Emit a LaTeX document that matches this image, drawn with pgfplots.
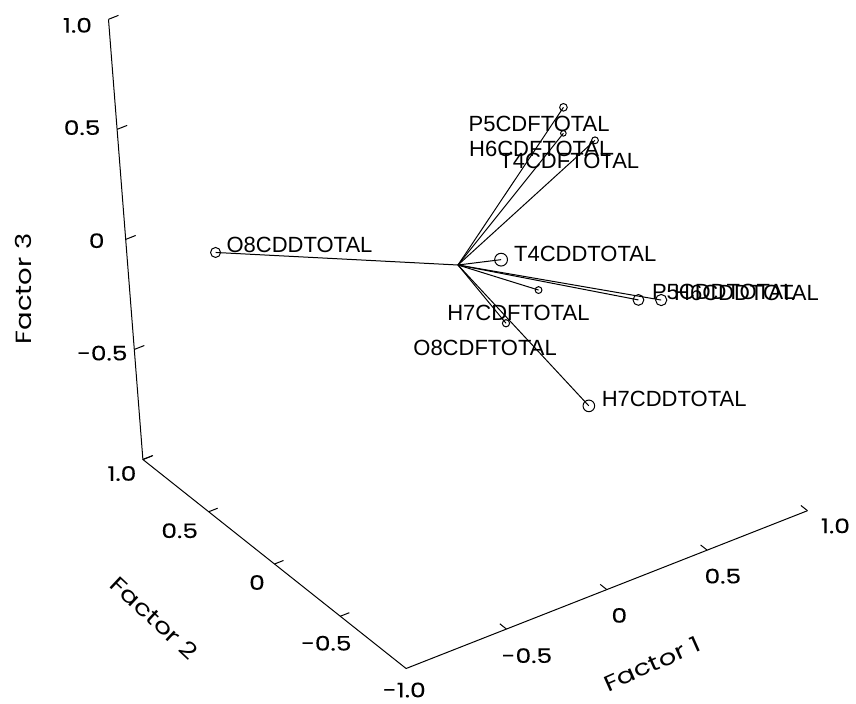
\documentclass[border=0pt]{standalone}
\usepackage{pgfplots}
\pgfplotsset{compat=1.18}
\usetikzlibrary{calc}
\usepackage{fontspec}
\setmainfont{Liberation Sans}
\newfontfamily\axisfont[FakeStretch=1.25, FakeBold=0.2]{Poppins}
\newfontfamily\titlefont[FakeStretch=1.25]{Poppins}

% one loading vector: a line from the origin, an open circle at its tip
\pgfplotsset{
  loading/.style={black, line width=0.5pt, mark=o, mark indices={2}, mark size=#1,
    mark options={solid, fill=white, line width=0.5pt}},
}
\tikzset{
  ticklab/.style={font=\axisfont\fontsize{10}{12}\selectfont, inner sep=0pt, anchor=center},
  titlelab/.style={font=\titlefont\fontsize{11}{13}\selectfont, inner sep=0pt, anchor=center},
  varlab/.style={font=\fontsize{11}{13}\selectfont, inner sep=0pt, anchor=base west},
}

\begin{document}
\begin{tikzpicture}
\begin{axis}[
  hide axis, clip=false,
  x={(100.35pt,39.45pt)}, y={(-65.8pt,52.25pt)}, z={(-8.6pt,110.05pt)},
  xmin=-1, xmax=1, ymin=-1, ymax=1, zmin=-1, zmax=1,
]
% axis frame: Factor 1 along the front, Factor 2 to the left, Factor 3 upright at the back
\draw[line width=0.5pt] (axis cs:1,-1,-1) -- (axis cs:-1,-1,-1) -- (axis cs:-1,1,-1) -- (axis cs:-1,1,1);
\pgfplotsinvokeforeach{-0.5,0,0.5,1}{\draw[line width=0.5pt] (axis cs:#1,-1,-1) -- (axis cs:#1,-0.95,-1);}
\pgfplotsinvokeforeach{-0.5,0,0.5,1}{\draw[line width=0.5pt] (axis cs:-1,#1,-1) -- (axis cs:-0.955,#1,-1);}
\pgfplotsinvokeforeach{-1,-0.5,0,0.5,1}{\draw[line width=0.5pt] (axis cs:-1,1,#1) -- (axis cs:-0.95,1,#1);}

% tick labels
\node[ticklab] at ($(axis cs:-1,-1,-1)+(-0.85pt,-10.75pt)$) {-1.0};
\node[ticklab] at ($(axis cs:-0.5,-1,-1)+(10.25pt,-13.3pt)$) {-0.5};
\node[ticklab] at ($(axis cs:0,-1,-1)+(6.25pt,-12.9pt)$) {0};
\node[ticklab] at ($(axis cs:0.5,-1,-1)+(7.85pt,-13pt)$) {0.5};
\node[ticklab] at ($(axis cs:1,-1,-1)+(14pt,-7.6pt)$) {1.0};

\node[ticklab] at ($(axis cs:-1,1,-1)+(-10.5pt,-7pt)$) {1.0};
\node[ticklab] at ($(axis cs:-1,0.5,-1)+(-14.5pt,-9.5pt)$) {0.5};
\node[ticklab] at ($(axis cs:-1,0,-1)+(-8.75pt,-9.25pt)$) {0};
\node[ticklab] at ($(axis cs:-1,-0.5,-1)+(-7pt,-13.5pt)$) {-0.5};

\node[ticklab] at ($(axis cs:-1,1,1)+(-15.5pt,-3pt)$) {1.0};
\node[ticklab] at ($(axis cs:-1,1,0.5)+(-17.5pt,0.85pt)$) {0.5};
\node[ticklab] at ($(axis cs:-1,1,0)+(-14.5pt,-0.65pt)$) {0};
\node[ticklab] at ($(axis cs:-1,1,-0.5)+(-16pt,-1.85pt)$) {-0.5};

% axis titles
\node[titlelab, rotate=24] at ($(axis cs:0,0,0)+(97pt,-199.5pt)$) {Factor 1};
\node[titlelab, rotate=-43] at ($(axis cs:0,0,0)+(-151.75pt,-176.5pt)$) {Factor 2};
\node[titlelab, rotate=90] at ($(axis cs:0,0,0)+(-217pt,-12pt)$) {Factor 3};

% factor loadings (Factor 1, Factor 2, Factor 3)
\addplot3[loading=2.5pt] coordinates {(0,0,0) (-0.66,0.85,-0.11)};  % O8CDD
\addplot3[loading=1.9pt] coordinates {(0,0,0) (0.45,-0.20,0.65)};   % P5CDF
\addplot3[loading=1.4pt] coordinates {(0,0,0) (0.41,-0.25,0.57)};   % H6CDF
\addplot3[loading=1.7pt] coordinates {(0,0,0) (0.59,-0.20,0.45)};   % T4CDF
\addplot3[loading=3.2pt] coordinates {(0,0,0) (0.27,0.10,-0.12)};   % T4CDD
\addplot3[loading=2.7pt] coordinates {(0,0,0) (0.68,-0.30,-0.26)};  % P5CDD
\addplot3[loading=2.8pt] coordinates {(0,0,0) (0.79,-0.30,-0.30)};  % H6CDD
\addplot3[loading=1.7pt] coordinates {(0,0,0) (0.38,0.00,-0.25)};   % H7CDF
\addplot3[loading=1.8pt] coordinates {(0,0,0) (0.21,0.00,-0.34)};   % O8CDF
\addplot3[loading=2.9pt] coordinates {(0,0,0) (0.46,-0.20,-0.71)};  % H7CDD

% variable names
\node[varlab, xshift=5.3pt] at (axis cs:-0.66,0.85,-0.11) {O8CDDTOTAL};
\node[varlab, xshift=-47.6pt, yshift=-12.3pt] at (axis cs:0.45,-0.20,0.65) {P5CDFTOTAL};
\node[varlab, xshift=-47.3pt, yshift=-11.8pt] at (axis cs:0.41,-0.25,0.57) {H6CDFTOTAL};
\node[varlab, xshift=-48pt, yshift=-14.2pt] at (axis cs:0.59,-0.20,0.45) {T4CDFTOTAL};
\node[varlab, xshift=6.3pt, yshift=-0.8pt] at (axis cs:0.27,0.10,-0.12) {T4CDDTOTAL};
\node[varlab, xshift=6.6pt] at (axis cs:0.68,-0.30,-0.26) {P5CDDTOTAL};
\node[varlab, xshift=6.3pt] at (axis cs:0.79,-0.30,-0.30) {H6CDDTOTAL};
\node[varlab, xshift=-45.8pt, yshift=-15.3pt] at (axis cs:0.38,0.00,-0.25) {H7CDFTOTAL};
\node[varlab, xshift=-46.5pt, yshift=-16.2pt] at (axis cs:0.21,0.00,-0.34) {O8CDFTOTAL};
\node[varlab, xshift=6.3pt, yshift=-0.3pt] at (axis cs:0.46,-0.20,-0.71) {H7CDDTOTAL};

\coordinate (O) at (axis cs:0,0,0);
\end{axis}
\pgfresetboundingbox
\path ($(O)+(-229pt,-219pt)$) rectangle ($(O)+(199pt,132.5pt)$);
\end{tikzpicture}
\end{document}
